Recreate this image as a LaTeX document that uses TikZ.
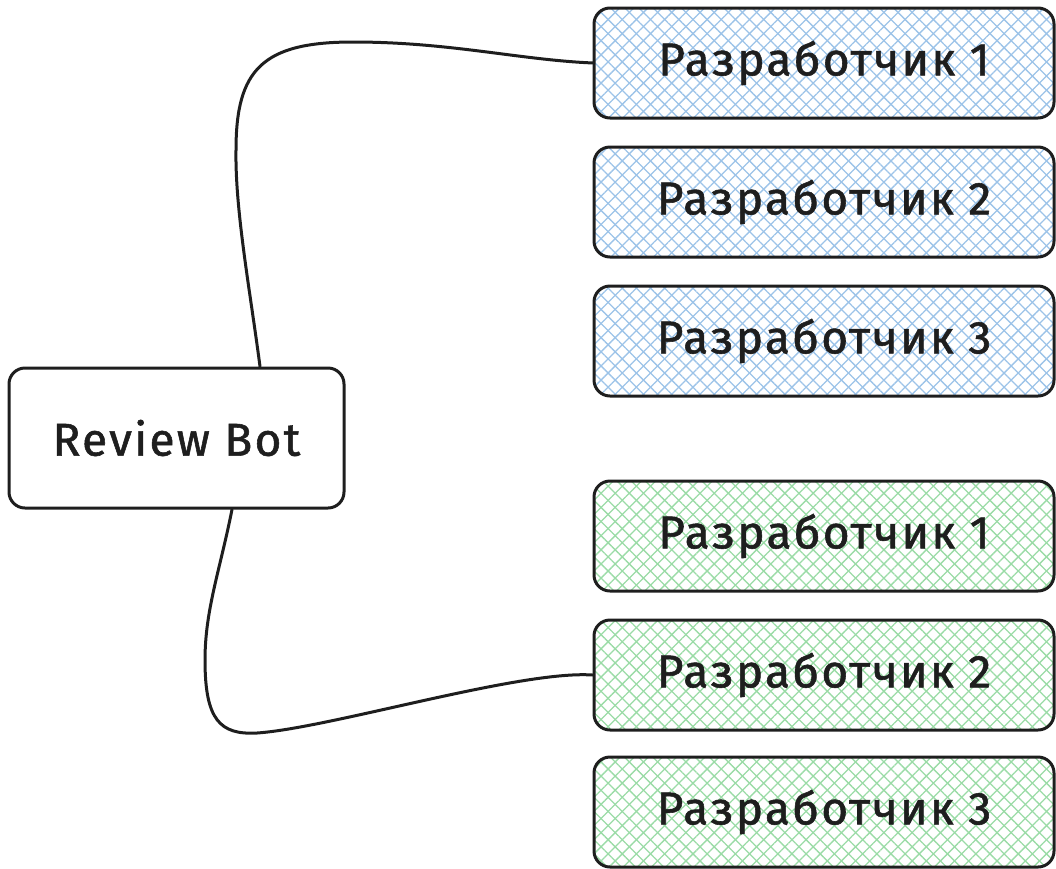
\documentclass[tikz,border=0pt]{standalone}
\usepackage{fontspec}
\setmainfont{Fira Sans}
\newfontfamily\handfont[FakeBold=1.2,LetterSpace=5]{Fira Sans}
\usetikzlibrary{patterns.meta,calc}
\definecolor{ink}{HTML}{1E1E1E}
\definecolor{hatchblue}{HTML}{9CC3E8}
\definecolor{hatchgreen}{HTML}{9ADBA6}
\tikzset{
  basebox/.style={draw=ink, line width=3pt, rounded corners=16pt, inner sep=0pt,
    font=\handfont\fontsize{46}{50}\selectfont, text=ink},
  devbox/.style={basebox, minimum width=460pt, minimum height=110pt,
    preaction={pattern={Lines[angle=45,distance=10pt,line width=1.3pt]}, pattern color=#1},
    pattern={Lines[angle=-45,distance=10pt,line width=1.3pt]}, pattern color=#1},
  botbox/.style={basebox, fill=white, minimum width=335pt, minimum height=140pt},
  link/.style={draw=ink, line width=3pt, line cap=round}
}
\begin{document}
\begin{tikzpicture}[x=1pt,y=-1pt]
\useasboundingbox (0,0) rectangle (1056,868);
\node[botbox] (rb) at (176.5,438) {Review Bot};
\node[devbox=hatchblue] (b1) at (824,63) {Разработчик 1};
\node[devbox=hatchblue] (b2) at (824,202) {Разработчик 2};
\node[devbox=hatchblue] (b3) at (824,341) {Разработчик 3};
\node[devbox=hatchgreen] (g1) at (824,536) {Разработчик 1};
\node[devbox=hatchgreen] (g2) at (824,675) {Разработчик 2};
\node[devbox=hatchgreen] (g3) at (824,812) {Разработчик 3};
\draw[link] ($(rb.north)+(83.5,0)$) .. controls (250,290) and (235,210) .. (236,150)
  .. controls (236,70) and (262,42) .. (353,42)
  .. controls (450,42) and (520,60) .. (b1.west);
\draw[link] ($(rb.south)+(55.5,0)$) .. controls (220,570) and (205,610) .. (205,660)
  .. controls (205,720) and (220,735) .. (257,733)
  .. controls (330,728) and (520,670) .. (g2.west);
\end{tikzpicture}
\end{document}
